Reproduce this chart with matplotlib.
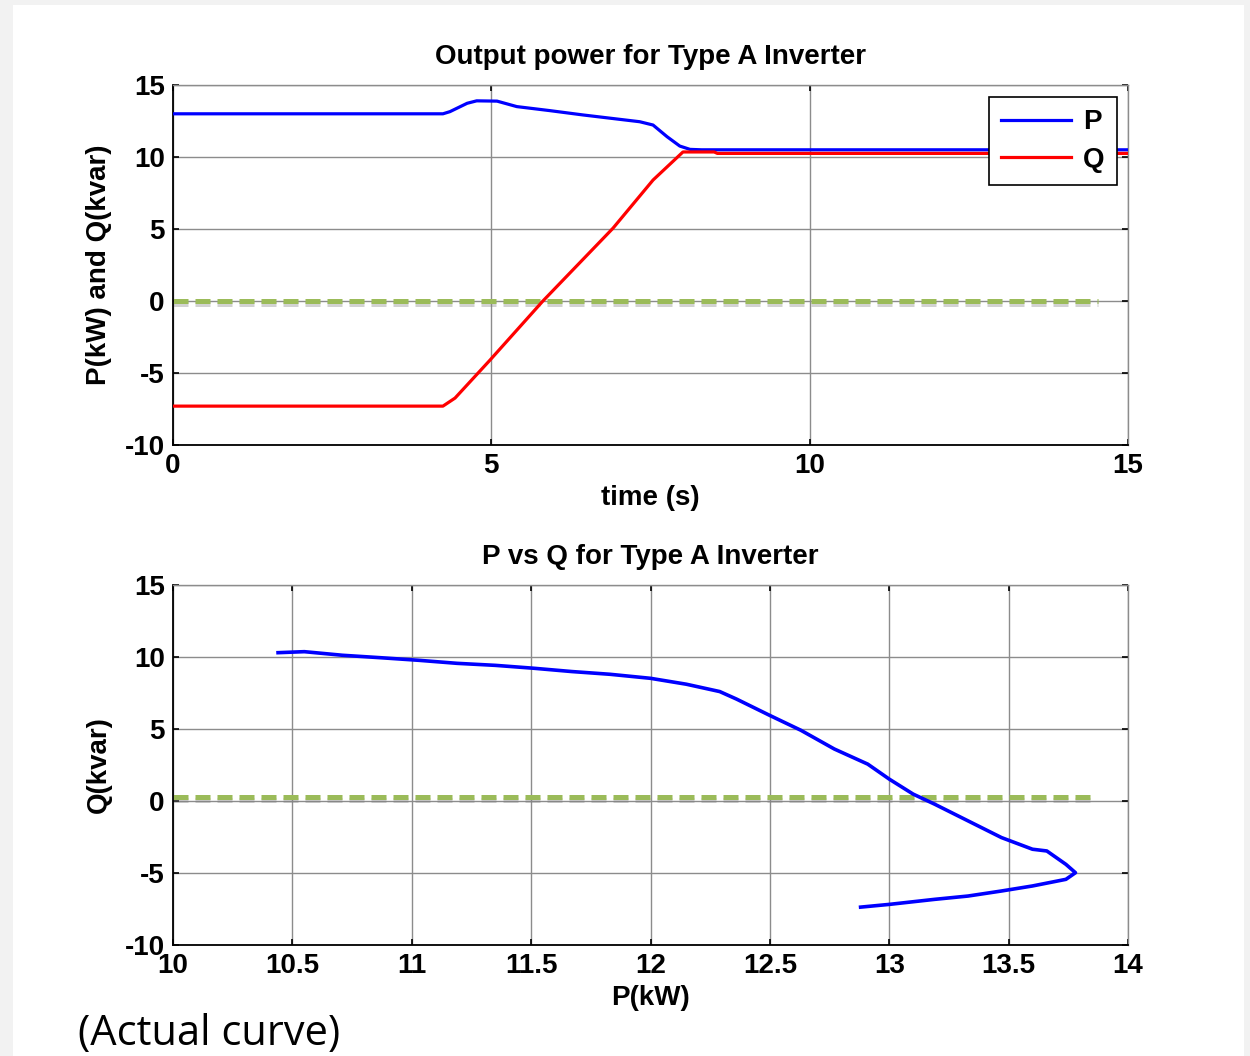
import numpy as np
import matplotlib.pyplot as plt
import matplotlib.patheffects as pe
from matplotlib.patches import Rectangle

# ---------------------------------------------------------------
# Datos: potencia de salida del inversor tipo A
# ---------------------------------------------------------------
t_p = [0, 4.24, 4.35, 4.62, 4.77, 5.09, 5.40, 5.92, 6.44, 6.97, 7.33, 7.54, 7.76, 7.96, 8.12, 8.3, 15]
p_kw = [13.0, 13.0, 13.15, 13.73, 13.9, 13.88, 13.5, 13.22, 12.92, 12.64, 12.45, 12.22, 11.41, 10.76, 10.53, 10.5, 10.5]

t_q = [0, 4.24, 4.43, 4.98, 5.81, 6.91, 7.54, 8.01, 8.5, 8.55, 15]
q_kvar = [-7.3, -7.3, -6.74, -4.1, 0.0, 5.05, 8.4, 10.35, 10.35, 10.25, 10.25]

# curva P-Q medida
pq_p = [10.44, 10.55, 10.71, 10.87, 11.03, 11.19, 11.35, 11.51, 11.67, 11.83, 12.0, 12.15,
        12.29, 12.36, 12.5, 12.63, 12.77, 12.91, 13.0, 13.10, 13.19, 13.33, 13.47, 13.60,
        13.66, 13.74, 13.78, 13.74, 13.60, 13.47, 13.33, 13.19, 13.0, 12.88]
pq_q = [10.30, 10.37, 10.12, 9.95, 9.77, 9.56, 9.42, 9.22, 8.99, 8.80, 8.52, 8.11,
        7.60, 7.08, 5.94, 4.91, 3.61, 2.56, 1.52, 0.48, -0.22, -1.38, -2.54, -3.35,
        -3.47, -4.40, -4.98, -5.44, -5.90, -6.25, -6.60, -6.83, -7.18, -7.37]

# referencia Q = 0
ref_top_x = [0, 14.53]
ref_top_y = [0, 0]
ref_bot_x = [10, 13.87]
ref_bot_y = [0.3, 0.3]

plt.rcParams['font.family'] = ['Liberation Sans', 'DejaVu Sans']
plt.rcParams['font.weight'] = 'bold'
plt.rcParams['axes.unicode_minus'] = False

FS = 20

fig = plt.figure(figsize=(12.5, 10.56), dpi=100, facecolor='#f2f2f2')
fig.patches.append(Rectangle((13/1250, 0), (1244-13)/1250, 1 - 5/1056,
                             transform=fig.transFigure, facecolor='white',
                             edgecolor='none', zorder=-10))

ax1 = fig.add_axes([173/1250, 1 - 445/1056, 955/1250, 360/1056])
ax2 = fig.add_axes([173/1250, 1 - 945/1056, 955/1250, 360/1056])

sombra = [pe.SimpleLineShadow(offset=(0, -2.5), shadow_color='#808080', alpha=0.35),
          pe.Normal()]


def estilo(ax, xlabel, ylabel, titulo):
    ax.grid(True, color='#8c8c8c', linewidth=1.0)
    ax.set_axisbelow(True)
    ax.tick_params(direction='in', top=True, right=True, length=4, width=1.2,
                   labelsize=FS, pad=6, colors='black')
    for s in ['left', 'bottom']:
        ax.spines[s].set_color('black')
        ax.spines[s].set_linewidth(1.3)
    for s in ['top', 'right']:
        ax.spines[s].set_color('#8c8c8c')
        ax.spines[s].set_linewidth(1.0)
    ax.set_ylim(-10, 15)
    ax.set_yticks([-10, -5, 0, 5, 10, 15])
    ax.set_title(titulo, fontsize=FS, fontweight='bold', pad=15)
    ax.set_xlabel(xlabel, fontsize=FS, fontweight='bold', va='top')
    ax.set_ylabel(ylabel, fontsize=FS, fontweight='bold')
    ax.xaxis.set_label_coords(0.5, -0.112)
    ax.yaxis.set_label_coords(-0.064, 0.5)


# --- Potencia vs tiempo ---
ax1.plot(ref_top_x, ref_top_y, color='#9bbb59', lw=3.6, dashes=(3.0, 1.4),
         path_effects=sombra, zorder=2)
ax1.plot(t_p, p_kw, color='#0000ff', lw=2.3, label='P', zorder=3)
ax1.plot(t_q, q_kvar, color='#ff0000', lw=2.3, label='Q', zorder=3)
ax1.set_xlim(0, 15)
ax1.set_xticks([0, 5, 10, 15])
estilo(ax1, 'time (s)', 'P(kW) and Q(kvar)', 'Output power for Type A Inverter')
leg = ax1.legend(loc='upper right', bbox_to_anchor=(0.9885, 0.9667), fontsize=FS,
                 frameon=True, fancybox=False, edgecolor='black', handlelength=2.5,
                 borderpad=0.45, labelspacing=0.4, handletextpad=0.45,
                 borderaxespad=0.0, framealpha=1)
leg.get_frame().set_linewidth(1.2)
for txt in leg.get_texts():
    txt.set_fontweight('bold')

# --- Curva P-Q ---
ax2.plot(ref_bot_x, ref_bot_y, color='#9bbb59', lw=3.6, dashes=(3.0, 1.4),
         path_effects=sombra, zorder=2)
ax2.plot(pq_p, pq_q, color='#0000ff', lw=2.6, zorder=3)
ax2.set_xlim(10, 14)
ax2.set_xticks([10, 10.5, 11, 11.5, 12, 12.5, 13, 13.5, 14])
ax2.set_xticklabels(['10', '10.5', '11', '11.5', '12', '12.5', '13', '13.5', '14'])
estilo(ax2, 'P(kW)', 'Q(kvar)', 'P vs Q for Type A Inverter')

fig.text(78/1250, 1/1056, '(Actual curve)', fontsize=30, fontweight='normal',
         family=['Open Sans', 'DejaVu Sans'], ha='left', va='bottom')

fig.savefig('out.png', dpi=100, facecolor=fig.get_facecolor())
